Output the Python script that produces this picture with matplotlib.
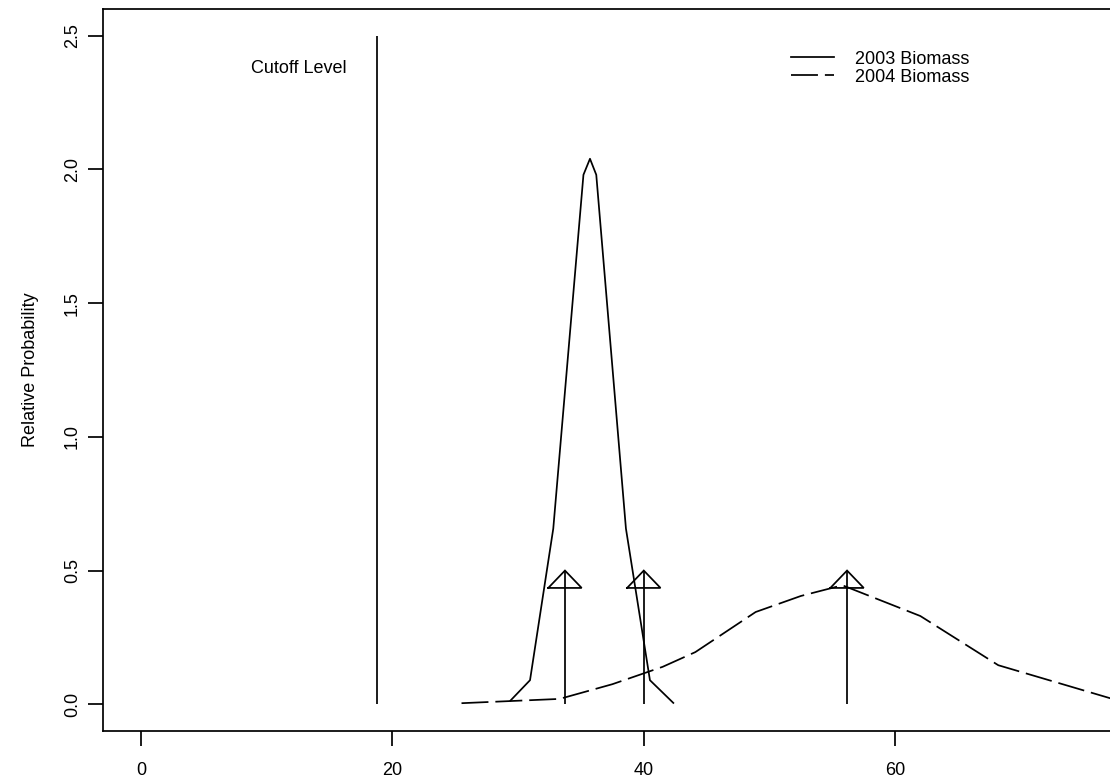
import numpy as np
import matplotlib
matplotlib.use("Agg")
import matplotlib.pyplot as plt

plt.rcParams['font.family'] = ['Liberation Sans', 'DejaVu Sans']
plt.rcParams['font.size'] = 13
plt.rcParams['lines.scale_dashes'] = False

# relative probability curves
b2003_x = [29.4, 30.95, 32.8, 35.2, 35.72, 36.22, 38.58, 40.49, 42.35]
b2003_y = [0.014, 0.09, 0.657, 1.98, 2.04, 1.98, 0.657, 0.09, 0.005]

b2004_x = [25.5, 33.3, 37.5, 41.5, 44.1, 48.9, 52.5, 55.8, 62.0, 68.2, 77.5]
b2004_y = [0.004, 0.02, 0.075, 0.14, 0.195, 0.345, 0.405, 0.445, 0.33, 0.146, 0.017]

cutoff = 18.77
cutoff_top = 2.5
arrow_x = [33.73, 40.0, 56.17]
arrow_top = 0.5

fig = plt.figure(figsize=(11.1, 7.82), dpi=100)
ax = fig.add_axes([103 / 1110, 51 / 782, 1025 / 1110, 722 / 782])

lw = 1.25
ax.plot(b2003_x, b2003_y, color='black', lw=lw, label='2003 Biomass')
ax.plot(b2004_x, b2004_y, color='black', lw=lw, linestyle=(0, (19.4, 5.0)),
        label='2004 Biomass')

# cutoff line and its label
ax.vlines(cutoff, 0, cutoff_top, color='black', lw=lw)
ax.annotate('Cutoff Level', xy=(cutoff, 2.36), xytext=(-21.6, 0),
            textcoords='offset points', ha='right', va='baseline')

# open-headed arrows
head_w = 1.33
head_h = 0.065
for xa in arrow_x:
    ax.vlines(xa, 0, arrow_top, color='black', lw=lw)
    ax.plot([xa - head_w, xa, xa + head_w, xa - head_w],
            [arrow_top - head_h, arrow_top, arrow_top - head_h, arrow_top - head_h],
            color='black', lw=lw, solid_joinstyle='miter')

ax.set_xlim(-3.02, 78.52)
ax.set_ylim(-0.1, 2.6)
ax.set_xticks([0, 20, 40, 60])
ax.set_yticks([0, 0.5, 1.0, 1.5, 2.0, 2.5])
ax.set_yticklabels(['0.0', '0.5', '1.0', '1.5', '2.0', '2.5'],
                   rotation=90, va='center')
ax.tick_params(direction='out', length=10.8, width=lw, colors='black')
ax.tick_params(axis='x', pad=11.5)
ax.tick_params(axis='y', pad=5)
for s in ax.spines.values():
    s.set_linewidth(lw)

ax.set_ylabel('Relative Probability')
ax.yaxis.set_label_coords(-0.0703, 0.5)
ax.yaxis.label.set_va('center')

ax.legend(loc='upper left', bbox_to_anchor=(0.6712, 0.9425), frameon=False,
          borderpad=0, borderaxespad=0, handlelength=2.39,
          handletextpad=1.17, labelspacing=0.07)

fig.savefig('out.png', dpi=100)
